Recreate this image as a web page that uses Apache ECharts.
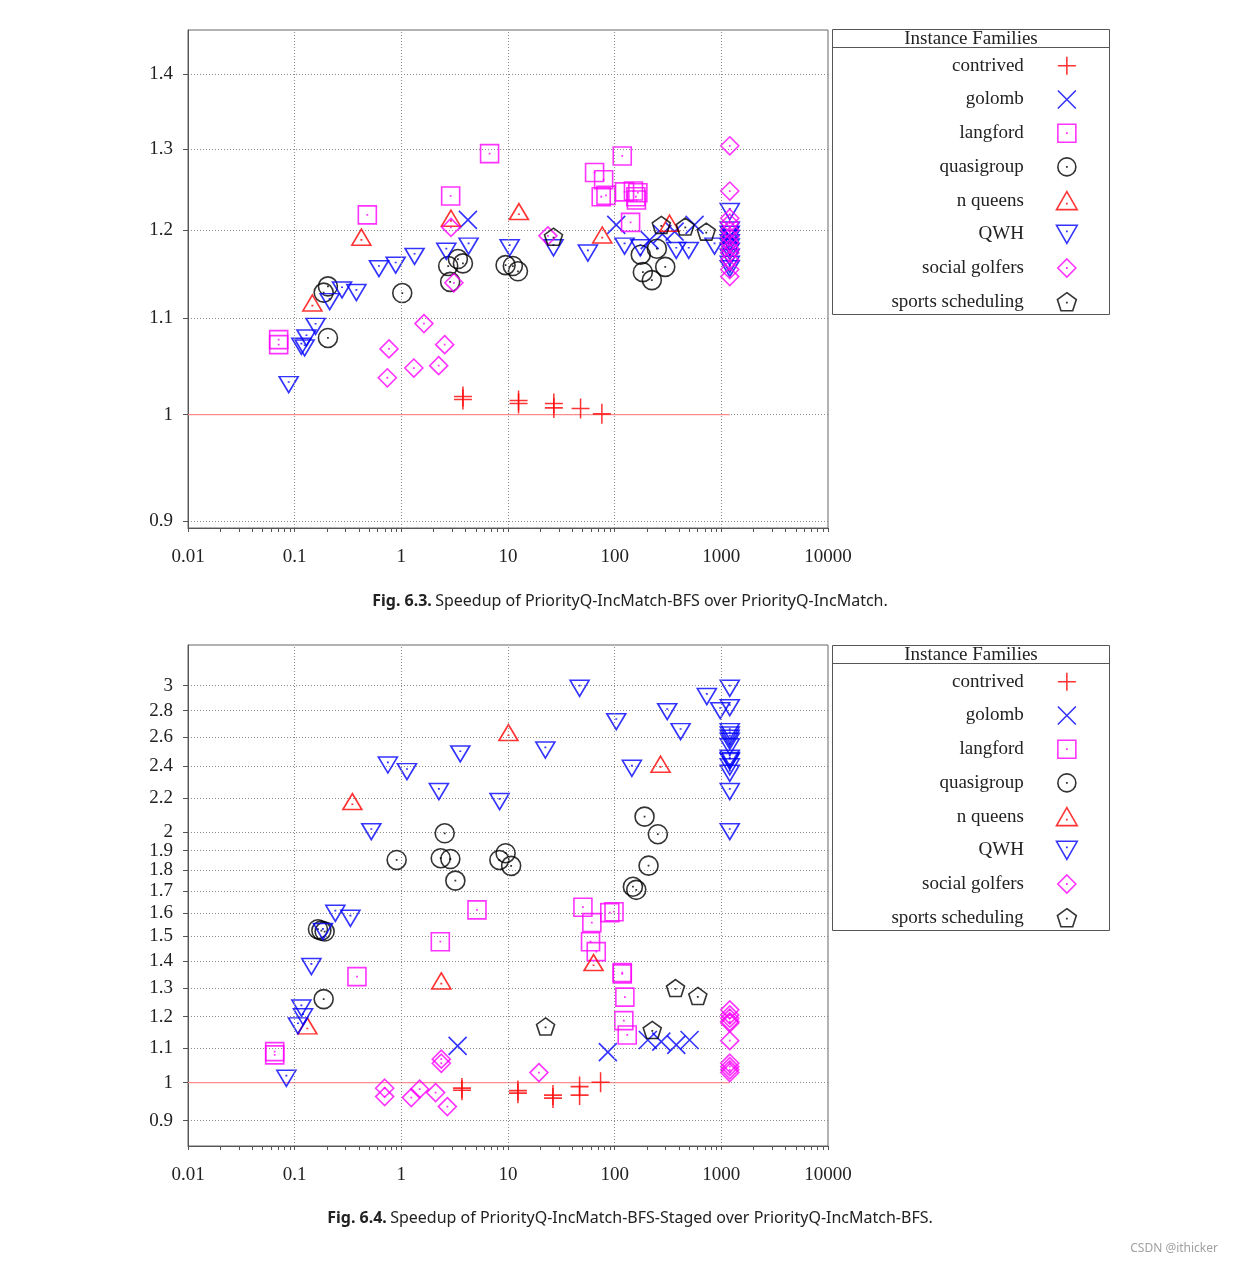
<!DOCTYPE html>
<html><head><meta charset="utf-8">
<script src="https://cdn.jsdelivr.net/npm/echarts@6/dist/echarts.min.js"></script>
<style>html,body{margin:0;padding:0;background:#fff}#c{width:1233px;height:1264px}</style>
</head><body><div id="c"></div>
<script>
// ---------- labels / ticks ----------
const families = ['contrived','golomb','langford','quasigroup','n queens','QWH','social golfers','sports scheduling'];
const xTickLabels = [0.01, 0.1, 1, 10, 100, 1000, 10000];
const xGridLines = [0.1, 1, 10, 100, 1000];
const yTickLabelsA = [0.9, 1, 1.1, 1.2, 1.3, 1.4];
const yTickLabelsB = [0.9, 1, 1.1, 1.2, 1.3, 1.4, 1.5, 1.6, 1.7, 1.8, 1.9, 2, 2.2, 2.4, 2.6, 2.8, 3];
const captionA = 'Speedup of PriorityQ-IncMatch-BFS over PriorityQ-IncMatch.';
const captionB = 'Speedup of PriorityQ-IncMatch-BFS-Staged over PriorityQ-IncMatch-BFS.';
const refLine = [[0.01, 1], [1200, 1]];

// ---------- Fig 6.3 data [time, speedup] ----------
const contrivedA = [[3.78,1.018],[3.78,1.015],[12.56,1.014],[12.56,1.011],[26.9,1.011],[26.9,1.0066],[47.9,1.006],[75.9,1.0007]];
const golombA = [[4.21,1.212],[103.5,1.206],[213,1.188],[280,1.195],[365,1.198],[561,1.206],[1200,1.193],[1200,1.183]];
const langfordA = [[0.0708,1.0768],[0.0708,1.0715],[0.48,1.218],[2.90,1.241],[6.72,1.294],[64.8,1.270],[78.8,1.261],[74.8,1.240],[82.9,1.2417],[117.8,1.291],[123.8,1.246],[141,1.209],[150,1.247],[158,1.240],[165,1.245],[160,1.236]];
const quasigroupA = [[0.187,1.128],[0.205,1.135],[0.205,1.0786],[1.02,1.1275],[2.75,1.158],[2.87,1.140],[3.39,1.166],[3.78,1.161],[9.49,1.159],[11.1,1.158],[12.4,1.152],[175.6,1.171],[183.7,1.151],[223.2,1.142],[248.6,1.178],[297.9,1.157]];
const nqueensA = [[0.1466,1.1165],[0.422,1.1915],[2.92,1.214],[12.65,1.222],[76.5,1.194],[326.9,1.208]];
const qwhA = [[0.0879,1.030],[0.1156,1.0697],[0.124,1.068],[0.129,1.0786],[0.157,1.091],[0.213,1.118],[0.278,1.131],[0.379,1.128],[0.617,1.155],[0.885,1.159],[1.33,1.169],[2.64,1.175],[4.27,1.181],[10.36,1.179],[26.7,1.179],[56.1,1.173],[123.8,1.181],[173.8,1.179],[378,1.176],[495,1.176],[863,1.181],[1200,1.222],[1200,1.200],[1200,1.195],[1200,1.19],[1200,1.185],[1200,1.18],[1200,1.175],[1200,1.168],[1200,1.16],[1200,1.155]];
const golfersA = [[0.739,1.037],[0.766,1.067],[1.31,1.047],[1.63,1.094],[2.24,1.0495],[2.55,1.0715],[2.92,1.203],[3.11,1.139],[23.66,1.193],[1200,1.304],[1200,1.247],[1200,1.214],[1200,1.208],[1200,1.200],[1200,1.192],[1200,1.185],[1200,1.178],[1200,1.173],[1200,1.165],[1200,1.154],[1200,1.146]];
const sportsA = [[26.7,1.192],[273.5,1.206],[459,1.204],[722,1.198]];

// ---------- Fig 6.4 data [time, speedup] ----------
const contrivedB = [[3.70,0.985],[3.70,0.979],[12.39,0.978],[12.39,0.971],[26.4,0.966],[26.4,0.958],[46.9,0.989],[46.9,0.966],[73.8,1.001]];
const golombB = [[3.37,1.107],[86.3,1.088],[204.6,1.125],[273.5,1.120],[378,1.110],[503.6,1.125]];
const langfordB = [[0.065,1.0896],[0.065,1.0797],[0.3837,1.341],[2.32,1.477],[5.12,1.613],[50.4,1.625],[61.1,1.557],[59.4,1.477],[67.2,1.437],[90,1.601],[98.6,1.605],[117.8,1.356],[117.8,1.351],[124.6,1.267],[121.9,1.187],[131.2,1.141]];
const quasigroupB = [[0.1653,1.529],[0.178,1.523],[0.191,1.519],[0.187,1.260],[0.904,1.852],[2.34,1.861],[2.55,1.994],[2.88,1.857],[3.21,1.749],[8.3,1.852],[9.5,1.887],[10.7,1.822],[148.2,1.720],[159.4,1.705],[190.6,2.088],[207.8,1.823],[254,1.989]];
const nqueensB = [[0.1315,1.170],[0.3475,2.177],[2.37,1.325],[10.1,2.635],[63.4,1.394],[269.3,2.414]];
const qwhB = [[0.0836,1.012],[0.1074,1.170],[0.1156,1.229],[0.1197,1.200],[0.1435,1.379],[0.184,1.519],[0.2406,1.598],[0.333,1.576],[0.523,2.003],[0.748,2.409],[1.129,2.365],[2.25,2.238],[3.57,2.484],[8.34,2.177],[22.4,2.511],[46.9,2.979],[103.5,2.716],[144.9,2.387],[311,2.792],[415,2.642],[731,2.911],[977,2.80],[1200,2.979],[1200,2.823],[1200,2.642],[1200,2.617],[1200,2.594],[1200,2.573],[1200,2.534],[1200,2.455],[1200,2.44],[1200,2.433],[1200,2.397],[1200,2.354],[1200,2.238],[1200,2.003]];
const golfersB = [[0.698,0.9846],[0.698,0.962],[1.24,0.9593],[1.485,0.9819],[2.095,0.9727],[2.70,0.9357],[2.37,1.067],[2.37,1.055],[19.5,1.028],[1200,1.223],[1200,1.206],[1200,1.195],[1200,1.184],[1200,1.179],[1200,1.123],[1200,1.055],[1200,1.045],[1200,1.036],[1200,1.028]];
const sportsB = [[22.5,1.168],[225,1.157],[372,1.299],[602,1.271]];

const dataA = [contrivedA, golombA, langfordA, quasigroupA, nqueensA, qwhA, golfersA, sportsA];
const dataB = [contrivedB, golombB, langfordB, quasigroupB, nqueensB, qwhB, golfersB, sportsB];

// ---------- styles ----------
const DOT = 'M49.5 49.5H50.5V50.5H49.5Z';
const markers = [
  {color:'#ff0000', path:'path://M0 50H100M50 0V100', size:[18,20]},
  {color:'#0000ff', path:'path://M0 0L100 100M100 0L0 100', size:[18,18]},
  {color:'#ff00ff', path:'path://M0 0H100V100H0Z' + DOT, size:[18,18]},
  {color:'#000000', path:'path://M0 50A50 50 0 1 1 100 50A50 50 0 1 1 0 50Z' + DOT, size:[19,19]},
  {color:'#ff0000', path:'path://M50 0L100 87L0 87Z M49.5 57.5H50.5V58.5H49.5Z', size:[19,16]},
  {color:'#0000ff', path:'path://M0 0L100 0L50 87Z M49.5 28.5H50.5V29.5H49.5Z', size:[19,16]},
  {color:'#ff00ff', path:'path://M50 0L100 50L50 100L0 50Z' + DOT, size:[18,18]},
  {color:'#000000', path:'path://M50 0L97.6 34.5L79.4 90.5L20.6 90.5L2.4 34.5Z M49.5 49.5H50.5V50.5H49.5Z', size:[18,17]}
];
const STROKE = 1.6;

const minorTicks = [];
[0.01, 0.1, 1, 10, 100, 1000].forEach(d => { for (let k = 1; k <= 9; k++) minorTicks.push(+(k * d).toPrecision(3)); });
minorTicks.push(10000);

const SERIF = 'Liberation Serif';
const FS = 19;
const axisCol = '#555';

function xAxisFor(i) {
  return {
    type: 'log', logBase: 10, gridIndex: i, min: 0.01, max: 10000,
    axisLine: {show: true, onZero: false, lineStyle: {color: axisCol, width: 1}},
    axisTick: {show: true, customValues: minorTicks, length: 4, lineStyle: {color: axisCol}},
    axisLabel: {customValues: xTickLabels, formatter: v => String(v), fontFamily: SERIF, fontSize: FS, color: '#222', margin: 20},
    splitLine: {show: false}
  };
}
function yAxisFor(i, min, max, labels) {
  return {
    type: 'log', logBase: 10, gridIndex: i, min: min, max: max,
    axisLine: {show: true, onZero: false, lineStyle: {color: axisCol, width: 1}},
    axisTick: {show: true, customValues: labels, length: 5, lineStyle: {color: axisCol}},
    axisLabel: {customValues: labels, formatter: v => String(v), fontFamily: SERIF, fontSize: FS, color: '#222', margin: 15},
    splitLine: {show: true, lineStyle: {type: [1, 2], color: '#8a8a8a', width: 1}}
  };
}

const series = [];
[dataA, dataB].forEach((set, g) => {
  series.push({
    type: 'line', name: 'ref' + g, xAxisIndex: g, yAxisIndex: g, data: refLine,
    symbol: 'none', silent: true, z: 1,
    lineStyle: {color: '#ff8c8c', width: 1.3},
    markLine: {
      symbol: 'none', silent: true, label: {show: false},
      lineStyle: {type: [1, 2], color: '#8a8a8a', width: 1},
      data: xGridLines.map(v => ({xAxis: v}))
    }
  });
  set.forEach((d, k) => {
    const m = markers[k];
    series.push({
      type: 'scatter', name: families[k], xAxisIndex: g, yAxisIndex: g, data: d,
      symbol: m.path, symbolSize: m.size,
      itemStyle: {color: 'rgba(0,0,0,0)', borderColor: m.color, borderWidth: STROKE},
      emphasis: {disabled: true}, z: 3
    });
  });
});

function legendFor(top) {
  return {
    data: families.map((f, k) => ({name: f, icon: markers[k].path,
      itemStyle: {color: 'rgba(0,0,0,0)', borderColor: markers[k].color, borderWidth: STROKE}})),
    orient: 'vertical', align: 'right', right: 155, top: top, padding: 0,
    itemWidth: 76, itemHeight: 18, itemGap: 14.1, selectedMode: false,
    textStyle: {fontFamily: SERIF, fontSize: FS, color: '#222', lineHeight: 18}
  };
}

function legendBox(y) {
  return [
    {type: 'rect', shape: {x: 832.5, y: y + 0.5, width: 277, height: 285}, style: {fill: 'none', stroke: '#555', lineWidth: 1}, silent: true},
    {type: 'line', shape: {x1: 832.5, y1: y + 18.5, x2: 1109.5, y2: y + 18.5}, style: {stroke: '#555', lineWidth: 1}, silent: true},
    {type: 'text', style: {text: 'Instance Families', x: 971, y: y + 10, align: 'center', textAlign: 'center', verticalAlign: 'middle', textVerticalAlign: 'middle', font: FS + 'px "Liberation Serif"', fill: '#222'}, silent: true}
  ];
}
function caption(num, text, y) {
  return {type: 'text', silent: true, style: {
    text: '{b|Fig. ' + num + '.} {n|' + text + '}', x: 630, y: y,
    align: 'center', textAlign: 'center', verticalAlign: 'middle', textVerticalAlign: 'middle',
    rich: {b: {fontFamily: 'Noto Sans', fontSize: 16, fontWeight: 'bold', fill: '#222'}, n: {fontFamily: 'Noto Sans', fontSize: 16, fill: '#222'}}
  }};
}

const option = {
  animation: false,
  backgroundColor: '#fff',
  grid: [
    {left: 188, top: 30, width: 640, height: 498, show: true, borderColor: '#666', borderWidth: 1, containLabel: false},
    {left: 188, top: 645, width: 640, height: 501, show: true, borderColor: '#666', borderWidth: 1, containLabel: false}
  ],
  xAxis: [xAxisFor(0), xAxisFor(1)],
  yAxis: [yAxisFor(0, 0.894, 1.462, yTickLabelsA), yAxisFor(1, 0.839, 3.358, yTickLabelsB)],
  legend: [legendFor(56), legendFor(672)],
  graphic: [].concat(legendBox(29), legendBox(645), [
    caption('6.3', captionA, 601),
    caption('6.4', captionB, 1218),
    {type: 'text', silent: true, style: {text: 'CSDN @ithicker', x: 1218, y: 1249, align: 'right', textAlign: 'right', verticalAlign: 'middle', textVerticalAlign: 'middle', font: '12px "Noto Sans"', fill: '#a0a0a0'}}
  ]),
  series: series
};
const chart = echarts.init(document.getElementById('c'), null, {renderer: 'canvas'});
chart.setOption(option);
</script>
</body></html>
